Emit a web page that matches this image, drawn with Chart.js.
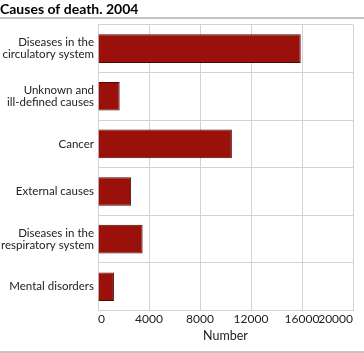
<!DOCTYPE html>
<html>
<head>
<meta charset="utf-8">
<script src="https://cdn.jsdelivr.net/npm/chart.js@4"></script>
<style>
  html, body { margin: 0; padding: 0; background: #fff; }
  #wrap { width: 364px; height: 353px; position: relative; }
</style>
</head>
<body>
<div id="wrap"><canvas id="causesChart"></canvas></div>
<script>
// data
var categories = [
    ['Diseases in the', 'circulatory system'],
    ['Unknown and', 'ill-defined causes'],
    'Cancer',
    'External causes',
    ['Diseases in the', 'respiratory system'],
    'Mental disorders'
];
var deaths = [15900, 1700, 10500, 2600, 3500, 1250];
var xTicks = [0, 4000, 8000, 12000, 16000, 20000];

var fontFamily = 'Lato, "Noto Sans", sans-serif';

// grey rules under the title and at the bottom of the figure
var rules = {
    id: 'rules',
    afterDraw: function(chart) {
        var c = chart.ctx;
        c.save();
        c.fillStyle = '#c4c4c4';
        c.fillRect(0, 17, 364, 2);
        c.fillRect(0, 351, 364, 2);
        c.restore();
    }
};

var ctx = document.getElementById('causesChart');
var chart = new Chart(ctx, {
    type: 'bar',
    data: {
        labels: categories,
        datasets: [{
            label: 'Number',
            data: deaths,
            backgroundColor: '#9a100a',
            borderColor: '#4a0905',
            borderWidth: 1,
            categoryPercentage: 1,
            barPercentage: 0.6
        }]
    },
    options: {
        indexAxis: 'y',
        responsive: true,
        maintainAspectRatio: false,
        animation: false,
        layout: {
            padding: { left: 0, right: 11, top: 0, bottom: 10 }
        },
        plugins: {
            legend: { display: false },
            tooltip: { enabled: false },
            title: {
                display: true,
                text: 'Causes of death. 2004',
                align: 'start',
                color: '#000',
                font: { family: fontFamily, size: 14, weight: 'bold' },
                padding: { top: 1, bottom: 7 }
            }
        },
        scales: {
            x: {
                min: 0,
                max: 20000,
                afterBuildTicks: function(scale) {
                    scale.ticks = xTicks.map(function(v) { return { value: v }; });
                },
                afterFit: function(scale) {
                    scale.paddingLeft = 0;
                    scale.paddingRight = 0;
                },
                grid: { color: '#d2d2d2', drawTicks: false },
                border: { color: '#d2d2d2' },
                ticks: {
                    color: '#222',
                    padding: 1,
                    align: 'inner',
                    callback: function(v) { return String(v); },
                    font: { family: fontFamily, size: 12 }
                },
                title: {
                    display: true,
                    text: 'Number',
                    color: '#222',
                    padding: { top: 1, bottom: 0 },
                    font: { family: fontFamily, size: 12.5 }
                }
            },
            y: {
                afterFit: function(scale) {
                    scale.width = 98;
                },
                grid: { color: '#d2d2d2', drawTicks: false },
                border: { color: '#d2d2d2' },
                ticks: {
                    color: '#222',
                    padding: 4,
                    font: { family: fontFamily, size: 11.5, lineHeight: 1.05 }
                }
            }
        }
    },
    plugins: [rules]
});
</script>
</body>
</html>
